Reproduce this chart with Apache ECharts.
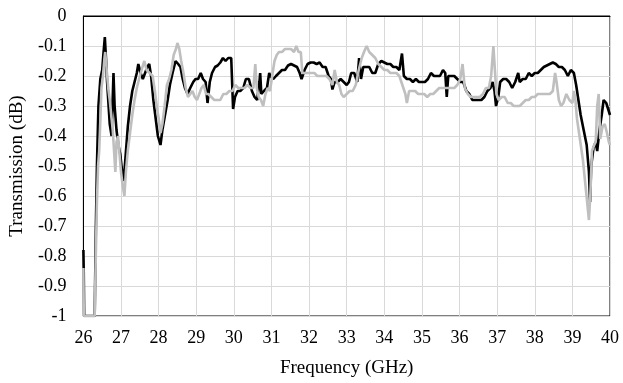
<!DOCTYPE html>
<html>
<head>
<meta charset="utf-8">
<script src="https://cdn.jsdelivr.net/npm/echarts@6/dist/echarts.min.js"></script>
<style>html,body{margin:0;padding:0;background:#fff}#c{width:623px;height:383px}</style>
</head>
<body>
<div id="c"></div>
<script>
// Tick labels
var xTicks = [26,27,28,29,30,31,32,33,34,35,36,37,38,39,40];
var yTicks = [0,-0.1,-0.2,-0.3,-0.4,-0.5,-0.6,-0.7,-0.8,-0.9,-1];

// Black trace
var blackFreq = [26.00,26.01,26.02,26.30,26.33,26.36,26.40,26.45,26.50,26.53,26.57,26.60,26.63,26.66,26.70,26.75,26.80,26.83,26.88,26.93,26.98,27.03,27.07,27.12,27.18,27.24,27.30,27.36,27.42,27.46,27.52,27.58,27.64,27.70,27.75,27.80,27.86,27.93,27.98,28.05,28.10,28.17,28.24,28.30,28.37,28.45,28.52,28.58,28.64,28.70,28.77,28.84,28.92,28.98,29.05,29.12,29.18,29.25,29.30,29.36,29.42,29.50,29.57,29.64,29.71,29.78,29.85,29.93,29.98,30.03,30.10,30.17,30.25,30.32,30.40,30.48,30.55,30.62,30.68,30.70,30.73,30.80,30.88,30.94,30.97,31.05,31.12,31.20,31.28,31.36,31.44,31.52,31.60,31.68,31.75,31.80,31.88,31.96,32.04,32.12,32.20,32.28,32.36,32.44,32.52,32.58,32.62,32.68,32.76,32.84,32.92,33.00,33.06,33.12,33.20,33.28,33.33,33.38,33.44,33.52,33.60,33.68,33.76,33.84,33.92,34.00,34.08,34.16,34.24,34.32,34.40,34.47,34.52,34.60,34.68,34.76,34.84,34.92,35.00,35.08,35.16,35.24,35.32,35.40,35.48,35.56,35.62,35.66,35.70,35.78,35.86,35.94,36.02,36.10,36.18,36.26,36.34,36.42,36.50,36.58,36.66,36.74,36.82,36.88,36.93,36.97,37.03,37.08,37.16,37.24,37.32,37.40,37.48,37.56,37.60,37.68,37.76,37.84,37.92,38.00,38.08,38.16,38.24,38.32,38.40,38.48,38.56,38.64,38.72,38.80,38.88,38.96,39.04,39.10,39.16,39.22,39.30,39.38,39.44,39.47,39.50,39.56,39.62,39.66,39.72,39.78,39.83,39.90,39.95,40.00];
var blackVal = [-0.78,-0.86,-1.00,-1.00,-0.72,-0.50,-0.30,-0.21,-0.18,-0.13,-0.07,-0.14,-0.22,-0.28,-0.36,-0.40,-0.19,-0.30,-0.38,-0.43,-0.46,-0.52,-0.55,-0.47,-0.37,-0.30,-0.25,-0.22,-0.19,-0.16,-0.19,-0.21,-0.19,-0.17,-0.16,-0.20,-0.28,-0.35,-0.40,-0.43,-0.38,-0.33,-0.28,-0.23,-0.19,-0.15,-0.16,-0.17,-0.21,-0.24,-0.26,-0.24,-0.22,-0.21,-0.21,-0.19,-0.21,-0.22,-0.29,-0.22,-0.19,-0.17,-0.165,-0.155,-0.14,-0.15,-0.14,-0.14,-0.31,-0.27,-0.25,-0.25,-0.24,-0.21,-0.21,-0.25,-0.27,-0.28,-0.22,-0.19,-0.26,-0.25,-0.24,-0.19,-0.20,-0.21,-0.20,-0.19,-0.18,-0.18,-0.165,-0.16,-0.165,-0.17,-0.19,-0.21,-0.18,-0.16,-0.155,-0.155,-0.16,-0.155,-0.17,-0.17,-0.20,-0.21,-0.245,-0.22,-0.22,-0.21,-0.22,-0.23,-0.22,-0.19,-0.19,-0.22,-0.14,-0.21,-0.17,-0.17,-0.17,-0.19,-0.19,-0.16,-0.15,-0.155,-0.16,-0.16,-0.17,-0.17,-0.18,-0.125,-0.20,-0.21,-0.21,-0.22,-0.21,-0.22,-0.22,-0.22,-0.21,-0.19,-0.20,-0.20,-0.20,-0.18,-0.19,-0.27,-0.20,-0.20,-0.20,-0.21,-0.22,-0.22,-0.25,-0.26,-0.28,-0.28,-0.28,-0.28,-0.27,-0.25,-0.24,-0.22,-0.25,-0.30,-0.27,-0.22,-0.21,-0.21,-0.22,-0.24,-0.22,-0.19,-0.22,-0.21,-0.21,-0.19,-0.20,-0.19,-0.19,-0.18,-0.17,-0.165,-0.16,-0.155,-0.16,-0.17,-0.17,-0.18,-0.20,-0.18,-0.19,-0.23,-0.28,-0.33,-0.38,-0.43,-0.52,-0.62,-0.50,-0.44,-0.42,-0.45,-0.38,-0.33,-0.28,-0.29,-0.31,-0.33];

// Gray trace
var grayFreq = [26.00,26.01,26.30,26.33,26.36,26.39,26.42,26.45,26.48,26.52,26.56,26.58,26.62,26.66,26.70,26.74,26.78,26.82,26.85,26.88,26.92,26.96,27.00,27.05,27.09,27.13,27.18,27.24,27.30,27.36,27.42,27.50,27.57,27.62,27.68,27.76,27.84,27.90,27.96,28.00,28.05,28.10,28.16,28.22,28.28,28.34,28.40,28.46,28.50,28.55,28.60,28.66,28.72,28.78,28.84,28.90,28.96,29.02,29.08,29.14,29.20,29.26,29.32,29.40,29.48,29.56,29.64,29.72,29.80,29.88,29.96,30.04,30.12,30.20,30.28,30.36,30.44,30.52,30.57,30.61,30.66,30.72,30.78,30.84,30.90,30.96,31.02,31.08,31.14,31.20,31.28,31.36,31.44,31.52,31.60,31.66,31.72,31.78,31.82,31.90,31.98,32.06,32.14,32.22,32.30,32.38,32.46,32.54,32.62,32.68,32.74,32.80,32.86,32.92,33.00,33.08,33.16,33.24,33.32,33.40,33.46,33.53,33.60,33.68,33.76,33.84,33.92,34.00,34.08,34.16,34.24,34.32,34.40,34.48,34.56,34.60,34.66,34.74,34.82,34.90,34.98,35.06,35.14,35.22,35.30,35.38,35.46,35.54,35.62,35.70,35.78,35.86,35.94,36.02,36.08,36.14,36.22,36.30,36.38,36.46,36.54,36.62,36.70,36.78,36.84,36.90,36.94,36.98,37.04,37.12,37.20,37.28,37.36,37.44,37.52,37.60,37.68,37.76,37.84,37.92,38.00,38.08,38.16,38.24,38.32,38.40,38.48,38.54,38.58,38.64,38.70,38.76,38.84,38.92,39.00,39.04,39.08,39.12,39.20,39.28,39.36,39.44,39.48,39.52,39.58,39.62,39.66,39.70,39.74,39.80,39.86,39.92,39.97,40.00];
var grayVal = [-0.84,-1.00,-1.00,-0.80,-0.62,-0.50,-0.45,-0.35,-0.24,-0.20,-0.14,-0.12,-0.18,-0.24,-0.28,-0.33,-0.38,-0.46,-0.52,-0.42,-0.40,-0.46,-0.52,-0.57,-0.60,-0.52,-0.45,-0.39,-0.33,-0.28,-0.24,-0.20,-0.17,-0.15,-0.18,-0.19,-0.20,-0.25,-0.31,-0.34,-0.39,-0.36,-0.30,-0.23,-0.21,-0.18,-0.13,-0.11,-0.09,-0.11,-0.15,-0.19,-0.24,-0.27,-0.26,-0.25,-0.27,-0.28,-0.26,-0.24,-0.23,-0.26,-0.26,-0.27,-0.28,-0.28,-0.28,-0.26,-0.26,-0.25,-0.25,-0.23,-0.24,-0.24,-0.24,-0.23,-0.24,-0.24,-0.16,-0.24,-0.27,-0.28,-0.30,-0.26,-0.24,-0.25,-0.20,-0.15,-0.13,-0.12,-0.12,-0.11,-0.11,-0.11,-0.12,-0.10,-0.12,-0.12,-0.19,-0.19,-0.19,-0.19,-0.19,-0.20,-0.20,-0.20,-0.20,-0.21,-0.23,-0.18,-0.22,-0.23,-0.26,-0.27,-0.26,-0.25,-0.25,-0.23,-0.18,-0.14,-0.12,-0.10,-0.12,-0.13,-0.14,-0.16,-0.17,-0.18,-0.18,-0.19,-0.19,-0.19,-0.20,-0.23,-0.26,-0.29,-0.25,-0.25,-0.25,-0.26,-0.26,-0.26,-0.27,-0.26,-0.26,-0.25,-0.24,-0.24,-0.24,-0.24,-0.24,-0.24,-0.23,-0.21,-0.16,-0.24,-0.26,-0.27,-0.27,-0.27,-0.27,-0.26,-0.24,-0.24,-0.20,-0.10,-0.18,-0.26,-0.28,-0.27,-0.27,-0.29,-0.29,-0.30,-0.30,-0.30,-0.29,-0.28,-0.28,-0.27,-0.27,-0.26,-0.26,-0.26,-0.26,-0.26,-0.25,-0.19,-0.22,-0.28,-0.30,-0.29,-0.26,-0.28,-0.29,-0.25,-0.28,-0.34,-0.41,-0.48,-0.58,-0.68,-0.59,-0.45,-0.43,-0.42,-0.30,-0.26,-0.41,-0.37,-0.36,-0.39,-0.42,-0.43];

function pairs(f, v) { return f.map(function (x, i) { return [x, v[i]]; }); }

var FONT = '"Liberation Serif", "Times New Roman", serif';
var chart = echarts.init(document.getElementById('c'), null, {renderer: 'canvas'});
chart.setOption({
  animation: false,
  backgroundColor: '#ffffff',
  grid: {left: 83, right: 13, top: 16, bottom: 67, show: true, borderColor: '#000000', borderWidth: 1, backgroundColor: 'transparent'},
  xAxis: {
    type: 'value', min: xTicks[0], max: xTicks[xTicks.length - 1], interval: 1,
    name: 'Frequency (GHz)', nameLocation: 'middle', nameGap: 43,
    nameTextStyle: {fontFamily: FONT, fontSize: 19, color: '#000'},
    axisLine: {show: true, lineStyle: {color: '#000', width: 1}},
    axisTick: {show: false},
    axisLabel: {fontFamily: FONT, fontSize: 18, color: '#000', margin: 13},
    splitLine: {show: true, lineStyle: {color: '#d9d9d9', width: 1}}
  },
  yAxis: {
    type: 'value', min: yTicks[yTicks.length - 1], max: yTicks[0], interval: 0.1,
    name: 'Transmission (dB)', nameLocation: 'middle', nameGap: 55,
    nameTextStyle: {fontFamily: FONT, fontSize: 19, color: '#000'},
    axisLine: {show: true, lineStyle: {color: '#000', width: 1}},
    axisTick: {show: false},
    axisLabel: {fontFamily: FONT, fontSize: 18, color: '#000', margin: 17,
      formatter: function (v) { return String(Math.round(v * 10) / 10); }},
    splitLine: {show: true, lineStyle: {color: '#d9d9d9', width: 1}}
  },
  series: [
    {type: 'line', name: 'black', data: pairs(blackFreq, blackVal), showSymbol: false, symbol: 'none',
      lineStyle: {color: '#000000', width: 2.6}, z: 2},
    {type: 'line', name: 'gray', data: pairs(grayFreq, grayVal), showSymbol: false, symbol: 'none',
      lineStyle: {color: '#bfbfbf', width: 2.6}, z: 3}
  ]
});
</script>
</body>
</html>
